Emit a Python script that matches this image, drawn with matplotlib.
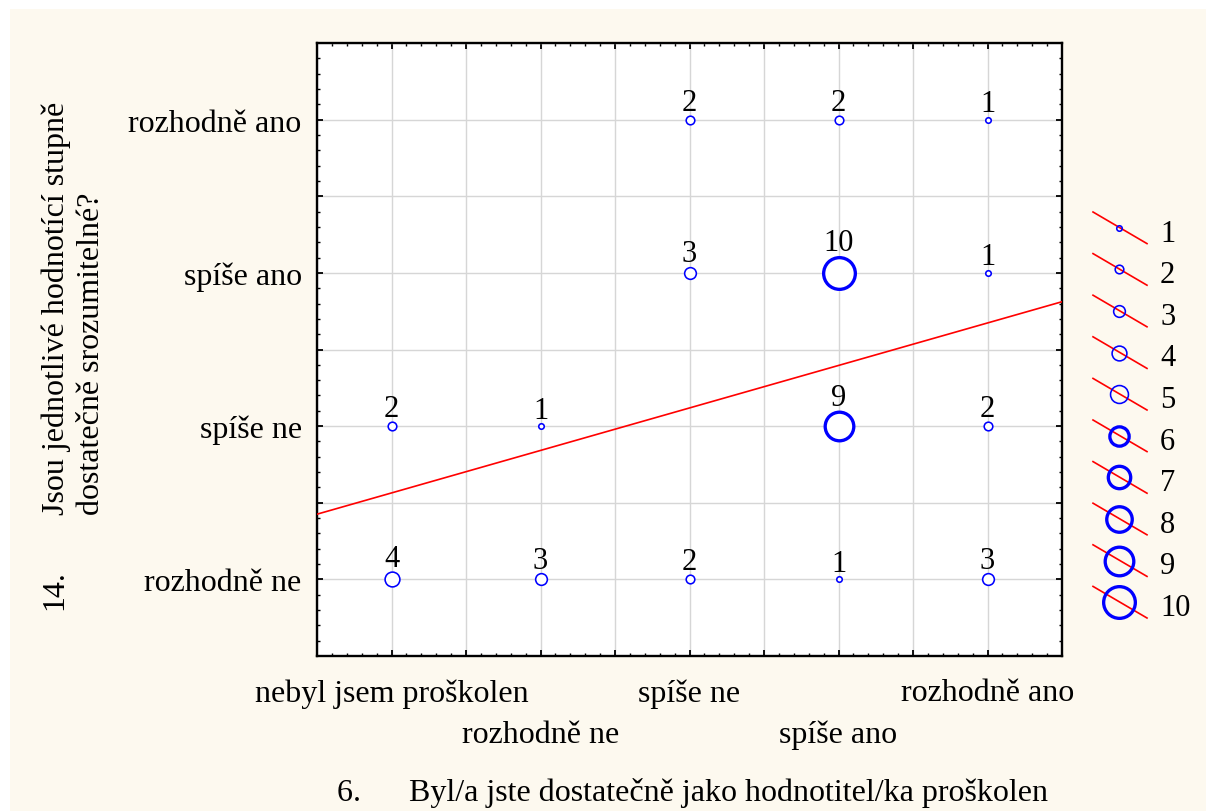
"""Frequency scatter: question 6 vs question 14, with linear fit."""
import numpy as np
import matplotlib
matplotlib.use("Agg")
import matplotlib.pyplot as plt
from matplotlib.patches import Rectangle
from matplotlib.ticker import FixedLocator, FuncFormatter, MultipleLocator

W, H, DPI = 1206, 812, 100
CREAM = "#fdf9ef"

# --- data ---------------------------------------------------------------------
X_LABELS = ["nebyl jsem proškolen", "rozhodně ne", "spíše ne", "spíše ano", "rozhodně ano"]
Y_LABELS = ["rozhodně ne", "spíše ne", "spíše ano", "rozhodně ano"]

# answer pairs (x = q6 category, y = q14 category) and how many times each occurred
PT_X = [3, 4, 5, 3, 4, 5, 1, 2, 4, 5, 1, 2, 3, 4, 5]
PT_Y = [4, 4, 4, 3, 3, 3, 2, 2, 2, 2, 1, 1, 1, 1, 1]
PT_N = [2, 2, 1, 3, 10, 1, 2, 1, 9, 2, 4, 3, 2, 1, 3]

LEGEND_N = list(range(1, 11))

FS = 23


def circle_style(n):
    """marker size / edge width (points) for a frequency n"""
    lw_px = 1.6 if n <= 5 else 3.3
    d_px = 3.1 * n + 4
    return (d_px - lw_px) * 72 / DPI, lw_px * 72 / DPI, d_px


plt.rcParams["font.family"] = ["Liberation Serif", "DejaVu Serif"]

fig = plt.figure(figsize=(W / DPI, H / DPI), dpi=DPI, facecolor="white")
fig.patches.append(Rectangle((10 / W, 0), 1.2, 1 - 10 / H, transform=fig.transFigure,
                             facecolor=CREAM, edgecolor="none", zorder=-10))

ax = fig.add_axes([317 / W, 1 - 657 / H, (1062 - 317) / W, (657 - 44) / H])
ax.set_facecolor("white")
ax.set_xlim(0.5, 5.5)
ax.set_ylim(0.5, 4.5)


def x_fmt(v, _):
    # odd categories go on the first row, even ones are placed lower (below)
    i = int(round(v))
    if abs(v - i) > 1e-6 or not 1 <= i <= len(X_LABELS) or i % 2 == 0:
        return ""
    return X_LABELS[i - 1]


def y_fmt(v, _):
    i = int(round(v))
    if abs(v - i) > 1e-6 or not 1 <= i <= len(Y_LABELS):
        return ""
    return Y_LABELS[i - 1]


ax.xaxis.set_major_locator(FixedLocator(np.arange(0.5, 5.51, 0.5)))
ax.yaxis.set_major_locator(FixedLocator(np.arange(0.5, 4.51, 0.5)))
ax.xaxis.set_minor_locator(MultipleLocator(0.1))
ax.yaxis.set_minor_locator(MultipleLocator(0.1))
ax.xaxis.set_major_formatter(FuncFormatter(x_fmt))
ax.yaxis.set_major_formatter(FuncFormatter(y_fmt))
ax.tick_params(which="both", direction="in", top=True, right=True, colors="black")
ax.tick_params(which="major", length=4.5, width=1.3, labelsize=FS)
ax.tick_params(which="minor", length=2.2, width=1.0)
ax.tick_params(axis="x", which="major", pad=16)
ax.tick_params(axis="y", which="major", pad=11)
for sp in ax.spines.values():
    sp.set_linewidth(1.7)
ax.grid(which="major", color="#d6d6d6", linewidth=1.0)
ax.set_axisbelow(True)

# second row of staggered category labels
xform = ax.get_xaxis_transform()
for i, lab in enumerate(X_LABELS, start=1):
    if i % 2 == 0:
        ax.annotate(lab, (i, 0), xycoords=xform, xytext=(0, -86 * 72 / DPI),
                    textcoords="offset points", ha="center", va="baseline",
                    fontsize=FS, annotation_clip=False)

# linear fit over all respondents
xs = np.repeat(PT_X, PT_N)
ys = np.repeat(PT_Y, PT_N)
slope, icpt = np.polyfit(xs, ys, 1)
xx = np.array(ax.get_xlim())
ax.plot(xx, icpt + slope * xx, color="red", lw=1.2, zorder=3)

for x, y, n in zip(PT_X, PT_Y, PT_N):
    ms, mew, d_px = circle_style(n)
    ax.plot(x, y, "o", ms=ms, mew=mew, mec="blue", mfc="white", zorder=4)
    ax.annotate(str(n), (x, y), xytext=(0, (d_px / 2 + 5) * 72 / DPI),
                textcoords="offset points", ha="center", va="baseline",
                fontsize=FS - 1, zorder=5)

# axis titles
fig.text(692 / W, 1 - 801 / H, "6.      Byl/a jste dostatečně jako hodnotitel/ka proškolen",
         ha="center", va="baseline", fontsize=FS)
fig.text(55 / W, 1 - 590 / H, "14.", rotation=90, ha="center", va="center", fontsize=FS)
fig.text(74 / W, 1 - 515 / H, "Jsou jednotlivé hodnotící stupně\ndostatečně srozumitelné?",
         rotation=90, ha="center", va="bottom", multialignment="left",
         linespacing=1.25, fontsize=FS)

# size legend
lax = fig.add_axes([1085 / W, 1 - 624 / H, 121 / W, 416 / H])
lax.axis("off")
lax.set_xlim(0, 121)
lax.set_ylim(len(LEGEND_N) + 0.5, 0.5)
for i, n in enumerate(LEGEND_N, start=1):
    ms, mew, _ = circle_style(n)
    lax.plot([8, 62], [i - 0.38, i + 0.38], color="red", lw=1.2)
    lax.plot(34, i, "o", ms=ms, mew=mew, mec="blue", mfc="none")
    lax.text(75, i + 0.31, str(n), ha="left", va="baseline", fontsize=FS - 1)

fig.savefig("out.png", dpi=DPI, facecolor=fig.get_facecolor())
